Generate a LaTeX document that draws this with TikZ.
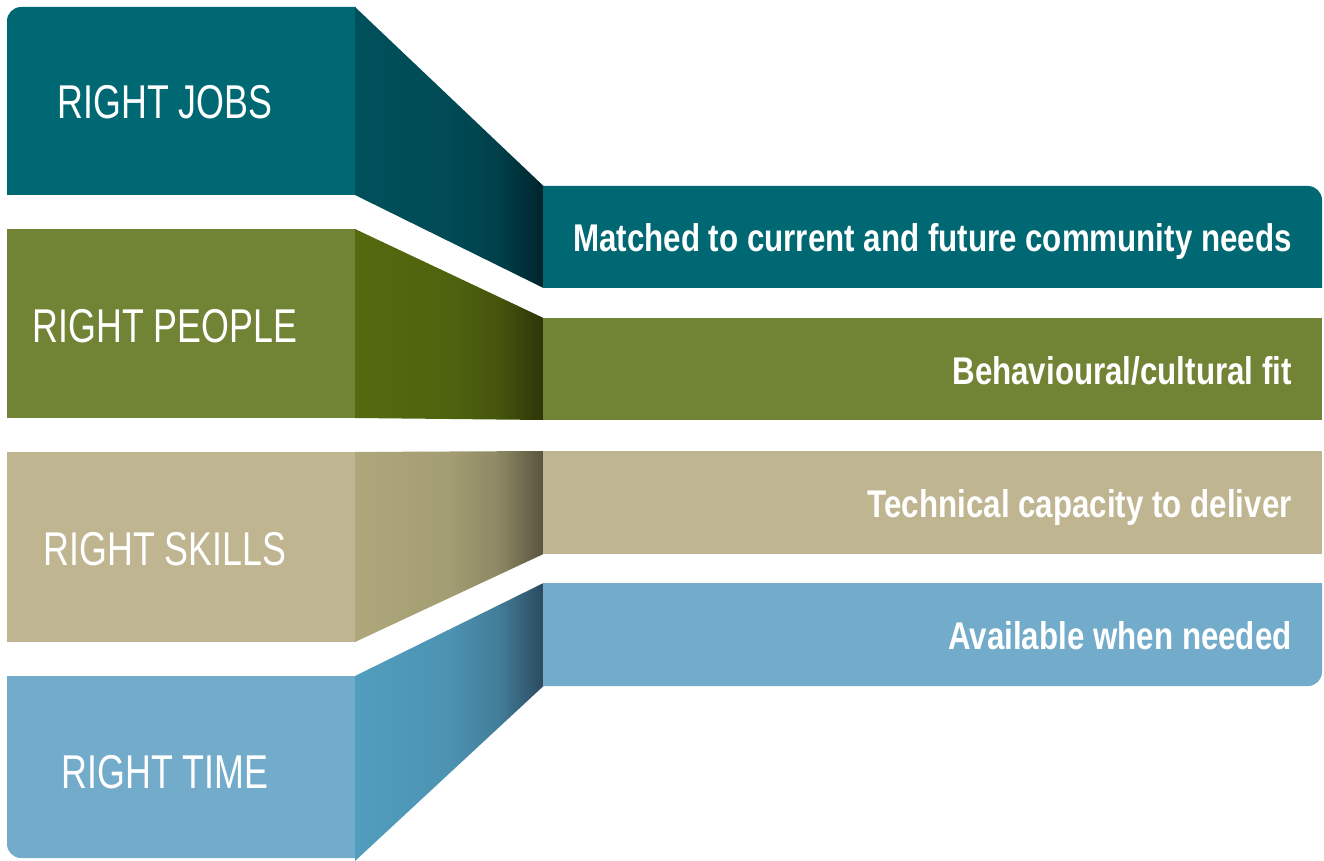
\documentclass[tikz,border=0pt]{standalone}
\usepackage{fontspec}
\setmainfont{Liberation Sans}[FakeStretch=0.755, BoldFeatures={FakeStretch=0.81}]
\usepackage{xcolor}
\definecolor{jobsC}{HTML}{006872}
\definecolor{jobsL}{HTML}{00505B}
\definecolor{jobsR}{HTML}{00242C}
\definecolor{peopleC}{HTML}{718436}
\definecolor{peopleL}{HTML}{54690F}
\definecolor{peopleR}{HTML}{2C3509}
\definecolor{skillsC}{HTML}{BFB591}
\definecolor{skillsL}{HTML}{AEA77A}
\definecolor{skillsR}{HTML}{58543E}
\definecolor{timeC}{HTML}{72ACCA}
\definecolor{timeL}{HTML}{519DBD}
\definecolor{timeR}{HTML}{2B4A5E}
\colorlet{sideL}{jobsL}
\colorlet{sideR}{jobsR}
\pgfdeclarehorizontalshading[sideL,sideR]{side}{100bp}{color(0bp)=(sideL); color(25bp)=(sideL); color(50bp)=(sideL!88!sideR); color(63bp)=(sideL!62!sideR); color(75bp)=(sideR); color(100bp)=(sideR)}

\begin{document}
\begin{tikzpicture}[x=0.02cm, y=-0.02cm,
  sideshade/.style 2 args={/utils/exec={\colorlet{sideL}{#1}\colorlet{sideR}{#2}}, shading=side},
  lefttext/.style={text=white, anchor=base, inner sep=0pt, font=\fontsize{27}{30}\selectfont},
  righttext/.style={text=white, anchor=base east, inner sep=0pt, font=\fontsize{22}{26}\selectfont\bfseries}]
  \useasboundingbox (0,0) rectangle (1324,861);
  % left boxes
  \fill[jobsC] (7,195) [rounded corners=8pt] -- (7,7) [sharp corners] -- (355.5,7) -- (355.5,195) -- cycle;
  \fill[peopleC] (7,229) rectangle (355.5,418);
  \fill[skillsC] (7,452) rectangle (355.5,642);
  \fill[timeC] (7,676) [rounded corners=8pt] -- (7,858) [sharp corners] -- (355.5,858) -- (355.5,676) -- cycle;
  % slanted pieces
  \shade[sideshade={jobsL}{jobsR}] (355,7) -- (543.5,186) -- (543.5,288) -- (355,195) -- cycle;
  \shade[sideshade={peopleL}{peopleR}] (355,229) -- (543.5,318) -- (543.5,420) -- (355,418) -- cycle;
  \shade[sideshade={skillsL}{skillsR}] (355,452) -- (543.5,451) -- (543.5,554) -- (355,642) -- cycle;
  \shade[sideshade={timeL}{timeR}] (355,676) -- (543.5,583) -- (543.5,686) -- (355,861) -- cycle;
  % right bars
  \fill[jobsC] (543,186) [rounded corners=8pt] -- (1322,186) [sharp corners] -- (1322,288) -- (543,288) -- cycle;
  \fill[peopleC] (543,318) rectangle (1322,420);
  \fill[skillsC] (543,451) rectangle (1322,554);
  \fill[timeC] (543,583) -- (1322,583) [rounded corners=8pt] -- (1322,686) [sharp corners] -- (543,686) -- cycle;
  % labels
  \node[lefttext] (jobs) at (165,119) {RIGHT JOBS};
  \node[lefttext] (people) at (165,342) {RIGHT PEOPLE};
  \node[lefttext] (skills) at (165,565) {RIGHT SKILLS};
  \node[lefttext] (time) at (165,788) {RIGHT TIME};
  \node[righttext] (jobsnote) at (1292,252) {Matched to current and future community needs};
  \node[righttext] (peoplenote) at (1292,384) {Behavioural/cultural fit};
  \node[righttext] (skillsnote) at (1292,517) {Technical capacity to deliver};
  \node[righttext] (timenote) at (1292,649) {Available when needed};
\end{tikzpicture}
\end{document}
